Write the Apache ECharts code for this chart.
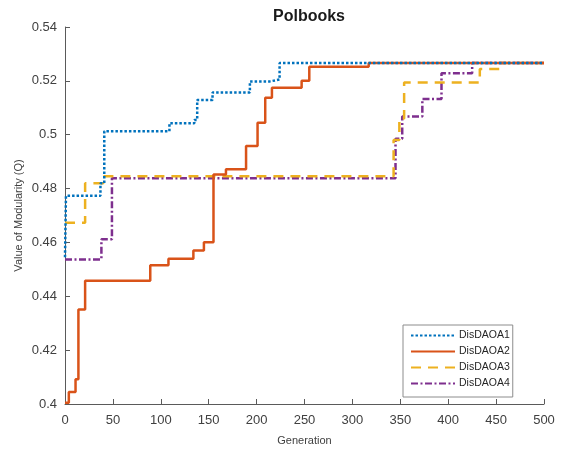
<!DOCTYPE html>
<html>
<head>
<meta charset="utf-8">
<title>Polbooks</title>
<script src="https://cdn.jsdelivr.net/npm/echarts@6/dist/echarts.min.js"></script>
<style>
    html, body { margin: 0; padding: 0; background: #fff; }
    #main { width: 564px; height: 450px; }
</style>
</head>
<body>
<div id="main"></div>
<script>
// 曲线名称
var seriesNames = ['DisDAOA1', 'DisDAOA2', 'DisDAOA3', 'DisDAOA4'];

// 每条曲线: 迭代次数 (Generation) 和模块度 Q, 阶梯形
var gen1 = [0, 1, 37, 41, 109, 135, 138, 154, 193, 214, 224, 500];
var q1   = [0.4545, 0.4773, 0.4820, 0.5013, 0.5043, 0.5055, 0.5129, 0.5157, 0.5198, 0.5205, 0.5266, 0.5266];

var gen2 = [0, 4, 11, 14, 21, 89, 108, 134, 145, 155, 168, 189, 201, 209, 216, 247, 255, 317, 500];
var q2   = [0.4005, 0.4045, 0.4092, 0.4351, 0.4458, 0.4515, 0.4539, 0.4570, 0.4601, 0.4852, 0.4872, 0.4958, 0.5044, 0.5137, 0.5174, 0.5200, 0.5252, 0.5266, 0.5266];

var gen3 = [0, 21, 40, 343, 349, 354, 433, 454, 500];
var q3   = [0.4673, 0.4820, 0.4846, 0.4980, 0.5060, 0.5194, 0.5244, 0.5266, 0.5266];

var gen4 = [0, 38, 49, 345, 352, 373, 393, 425, 500];
var q4   = [0.4537, 0.4612, 0.4838, 0.4985, 0.5068, 0.5133, 0.5228, 0.5266, 0.5266];

// 坐标轴刻度
var xTicks = [0, 50, 100, 150, 200, 250, 300, 350, 400, 450, 500];
var yTicks = [0.4, 0.42, 0.44, 0.46, 0.48, 0.5, 0.52, 0.54];

var colors = ['#0072BD', '#D95319', '#EDB120', '#7E2F8E'];
var dashes = [[2.5, 2], 'solid', [10, 7], [7, 2.5, 2, 2.5]];
var fontName = 'Liberation Sans, Arial, sans-serif';

function pairs(xs, ys) {
    var res = [];
    for (var i = 0; i < xs.length; i++) {
        res.push([xs[i], ys[i]]);
    }
    return res;
}

var allGen = [gen1, gen2, gen3, gen4];
var allQ = [q1, q2, q3, q4];

var myChart = echarts.init(document.getElementById('main'), null, {renderer: 'canvas'});
var option = {
    backgroundColor: '#ffffff',
    animation: false,
    title: {
        text: 'Polbooks',
        left: 304,
        textAlign: 'center',
        top: 4,
        textStyle: {
            fontFamily: fontName,
            fontSize: 16,
            fontWeight: 'bold',
            color: '#1a1a1a'
        }
    },
    legend: {
        orient: 'vertical',
        left: 403,
        top: 325,
        padding: [5, 3, 8, 7],
        itemWidth: 44,
        itemHeight: 10,
        itemGap: 5,
        backgroundColor: '#ffffff',
        borderColor: '#8c8c8c',
        borderWidth: 1,
        borderRadius: 0,
        itemStyle: { opacity: 0 },   // 图例只显示线型, 不显示圆点
        textStyle: {
            fontFamily: fontName,
            fontSize: 10.5,
            color: '#262626',
            padding: [0, 0, 0, -1]
        },
        data: seriesNames
    },
    grid: {
        left: 65,
        right: 20,
        top: 27,
        bottom: 46,
        outerBoundsMode: 'none'
    },
    xAxis: {
        type: 'value',
        min: xTicks[0],
        max: xTicks[xTicks.length - 1],
        interval: 50,
        name: 'Generation',
        nameLocation: 'middle',
        nameGap: 31,
        nameMoveOverlap: false,
        nameTextStyle: { fontFamily: fontName, fontSize: 11, color: '#404040' },
        axisLine: { show: true, lineStyle: { color: '#5a5a5a', width: 1 } },
        axisTick: { show: true, inside: true, length: 5, lineStyle: { color: '#5a5a5a' } },
        axisLabel: { fontFamily: fontName, fontSize: 13, color: '#404040', margin: 10 },
        splitLine: { show: false }
    },
    yAxis: {
        type: 'value',
        min: yTicks[0],
        max: yTicks[yTicks.length - 1],
        interval: 0.02,
        name: 'Value of Modularity (Q)',
        nameLocation: 'middle',
        nameGap: 41,
        nameMoveOverlap: false,
        nameTextStyle: { fontFamily: fontName, fontSize: 11, color: '#404040' },
        axisLine: { show: true, lineStyle: { color: '#5a5a5a', width: 1 } },
        axisTick: { show: true, inside: true, length: 5, lineStyle: { color: '#5a5a5a' } },
        axisLabel: { fontFamily: fontName, fontSize: 13, color: '#404040', margin: 8 },
        splitLine: { show: false }
    },
    series: seriesNames.map(function (name, i) {
        return {
            name: name,
            type: 'line',
            step: 'end',
            symbol: 'none',
            z: 10 - i,
            lineStyle: {
                color: colors[i],
                width: 2.5,
                type: dashes[i],
                cap: 'butt'
            },
            itemStyle: { color: colors[i] },
            data: pairs(allGen[i], allQ[i])
        };
    })
};
myChart.setOption(option);
</script>
</body>
</html>
